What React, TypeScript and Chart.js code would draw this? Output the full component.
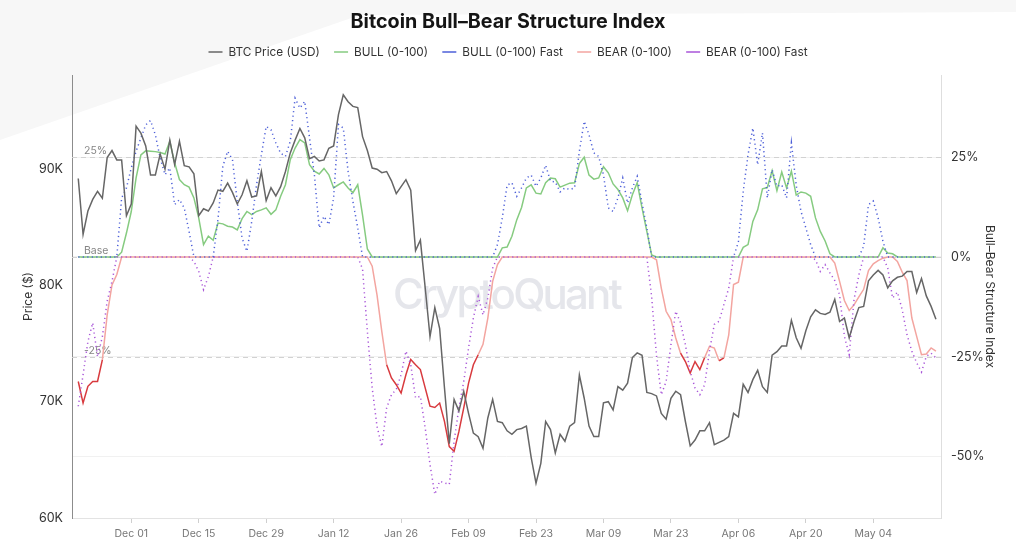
import React, { useEffect, useRef } from 'react';
import { Chart, registerables } from 'chart.js';

Chart.register(...registerables);

// ---------- data (daily, Nov 20 -> May 17) ----------
const START_UTC = Date.UTC(2025, 10, 20);
const MONTHS = ['Jan', 'Feb', 'Mar', 'Apr', 'May', 'Jun', 'Jul', 'Aug', 'Sep', 'Oct', 'Nov', 'Dec'];

const priceUSD = [
  89200, 84400, 86400, 87400, 88100, 87500, 91000, 91600, 90800, 90800,
  86000, 87000, 93700, 93100, 92000, 89500, 89500, 91300, 90000, 92500,
  90400, 92400, 90300, 90200, 89600, 86000, 86600, 86400, 87100, 88200,
  88100, 88800, 88000, 87000, 87800, 89000, 87600, 87700, 89800, 87300,
  88400, 87700, 88500, 89800, 91400, 92500, 93500, 92700, 90900, 91100,
  90700, 90800, 91800, 92000, 94700, 96400, 95800, 95400, 95300, 92800,
  91600, 90100, 90000, 89700, 89800, 89000, 87900, 88500, 89100, 88200,
  83000, 83900, 79800, 75600, 78100, 76300, 71200, 66400, 70200, 69200,
  70900, 69000, 67300, 67000, 66000, 68600, 70200, 68300, 68200, 67500,
  67200, 67600, 67700, 67900, 65200, 63000, 64700, 68300, 67600, 65600,
  67200, 66600, 67900, 68200, 72300, 70300, 67900, 67000, 67000, 69900,
  70000, 69300, 71300, 71000, 71600, 73800, 74200, 74000, 70800, 70700,
  70500, 69000, 68500, 70300, 70900, 70600, 68300, 66200, 66700, 67500,
  67500, 68200, 66300, 66500, 66700, 67000, 69000, 68700, 71500, 70800,
  71900, 72700, 71300, 70800, 74000, 74300, 74800, 74800, 77000, 75500,
  74600, 76100, 77300, 77900, 77600, 77500, 77700, 78800, 76900, 77200,
  75500, 76900, 78100, 78200, 80400, 80900, 81300, 80900, 79800, 80400,
  80700, 80800, 81200, 81200, 79400, 80600, 79100, 78200, 77100,
];

const bull = [
  0, 0, 0, 0, 0, 0, 0, 0, 0, 1.2,
  6.0, 11.4, 19.8, 25.6, 26.6, 26.5, 26.4, 26.2, 25.8, 29.0,
  23.6, 19.4, 18.1, 17.5, 14.8, 9.8, 3.1, 5.2, 4.2, 8.5,
  8.3, 7.7, 7.5, 6.8, 9.6, 11.4, 10.6, 11.4, 11.8, 12.3,
  10.7, 11.8, 15.2, 18.1, 24.4, 27.3, 29.4, 28.6, 23.1, 21.5,
  20.8, 22.2, 20.6, 17.3, 18.1, 18.8, 17.3, 16.1, 18.1, 10.5,
  2.0, 0, 0, 0, 0, 0, 0, 0, 0, 0,
  0, 0, 0, 0, 0, 0, 0, 0, 0, 0,
  0, 0, 0, 0, 0, 0, 0, 0, 2.3, 2.5,
  5.2, 9.3, 12.4, 17.3, 18.1, 16.0, 15.8, 18.6, 19.8, 19.6,
  17.5, 18.0, 18.5, 18.6, 23.4, 25.0, 20.5, 19.5, 19.8, 22.6,
  21.1, 18.3, 16.9, 14.8, 11.6, 15.6, 18.6, 12.3, 6.4, 0.5,
  0, 0, 0, 0, 0, 0, 0, 0, 0, 0,
  0, 0, 0, 0, 0, 0, 0, 0, 2.4, 3.1,
  8.9, 11.8, 17.1, 17.4, 21.6, 16.6, 21.3, 17.3, 21.5, 15.5,
  16.3, 16.0, 15.2, 9.8, 6.4, 4.0, 0.8, 0, 0, 0,
  0, 0, 0, 0, 0, 0, 0, 2.3, 1.0, 0.8,
  0, 0, 0, 0, 0, 0, 0, 0, 0,
];

const bullFast = [
  0, 0, 0, 0, 0, 0, 0, 0, 0, 14.8,
  17.3, 22.3, 26.5, 29.8, 33.1, 34.2, 30.6, 24.8, 20.6, 22.3,
  13.1, 14.4, 12.3, 6.4, 0, 0, 0, 0, 0, 9.5,
  22.7, 26.5, 24.4, 13.9, 4.7, 1.4, 8.9, 18.1, 25.6, 32.7,
  31.9, 28.6, 26.0, 25.2, 29.0, 39.8, 37.3, 39.0, 29.8, 20.6,
  7.3, 10.2, 8.1, 14.8, 33.2, 32.3, 21.5, 13.9, 7.3, 0,
  0, 0, 0, 0, 0, 0, 0, 0, 0, 0,
  0, 0, 0, 0, 0, 0, 0, 0, 0, 0,
  0, 0, 0, 0, 0, 0, 0, 3.1, 9.8, 18.0,
  18.6, 15.2, 17.3, 19.8, 20.5, 17.7, 19.8, 23.0, 19.0, 18.8,
  16.3, 17.3, 16.9, 17.3, 26.5, 34.0, 30.6, 26.1, 25.2, 20.6,
  12.3, 11.4, 14.8, 19.8, 13.5, 17.3, 20.2, 13.5, 7.3, 0,
  0, 0, 0, 0, 0, 0, 0, 0, 0, 0,
  0, 0, 0, 0, 0, 0, 0, 3.8, 16.4, 25.6,
  32.3, 23.1, 31.1, 14.8, 21.9, 17.7, 18.1, 14.8, 28.6, 18.0,
  11.4, 7.3, 3.1, 0, 0, 0, 0, 0, 0, 0,
  0, 0, 0, 2.7, 13.1, 14.0, 9.8, 3.9, 0, 0,
  0, 0, 0, 0, 0, 0, 0, 0, 0,
];

const bear = [
  -31.2, -36.6, -32.4, -31.2, -31.2, -25.8, -14.5, -7.0, -4.4, 0,
  0, 0, 0, 0, 0, 0, 0, 0, 0, 0,
  0, 0, 0, 0, 0, 0, 0, 0, 0, 0,
  0, 0, 0, 0, 0, 0, 0, 0, 0, 0,
  0, 0, 0, 0, 0, 0, 0, 0, 0, 0,
  0, 0, 0, 0, 0, 0, 0, 0, 0, 0,
  0, -2.3, -9.5, -18.7, -27.0, -30.3, -32.0, -34.1, -29.5, -25.7,
  -27.0, -28.2, -32.8, -37.4, -37.7, -36.6, -41.2, -47.5, -48.7, -43.7,
  -37.8, -31.6, -27.0, -24.5, -21.9, -15.3, -6.1, -1.9, 0, 0,
  0, 0, 0, 0, 0, 0, 0, 0, 0, 0,
  0, 0, 0, 0, 0, 0, 0, 0, 0, 0,
  0, 0, 0, 0, 0, 0, 0, 0, 0, 0,
  -0.7, -7.8, -13.6, -15.7, -20.3, -24.1, -26.2, -29.1, -26.2, -28.2,
  -25.2, -22.4, -22.8, -26.0, -25.3, -19.5, -6.9, -6.3, 0, 0,
  0, 0, 0, 0, 0, 0, 0, 0, 0, 0,
  0, 0, 0, 0, 0, 0, 0, -1.5, -6.1, -10.9,
  -13.4, -12.0, -10.0, -8.1, -3.4, -1.7, -0.9, -0.3, 0, 0,
  -1.1, -3.8, -5.9, -15.3, -19.9, -24.5, -24.3, -22.8, -23.6,
];

const bearFast = [
  -37.4, -29.5, -21.2, -16.5, -25.0, -20.0, -11.1, -6.1, 0, 0,
  0, 0, 0, 0, 0, 0, 0, 0, 0, 0,
  0, 0, 0, 0, -1.1, -3.6, -8.2, -4.9, 0, 0,
  0, 0, 0, 0, 0, 0, 0, 0, 0, 0,
  0, 0, 0, 0, 0, 0, 0, 0, 0, 0,
  0, 0, 0, 0, 0, 0, 0, 0, 0, -3.0,
  -18.7, -32.8, -42.4, -47.5, -37.8, -34.5, -33.2, -29.5, -23.6, -27.0,
  -35.3, -34.9, -42.8, -52.0, -59.5, -56.2, -56.6, -57.0, -46.2, -37.8,
  -31.2, -22.8, -15.3, -9.9, -14.5, -10.3, -2.8, 0, 0, 0,
  0, 0, 0, 0, 0, 0, 0, 0, 0, 0,
  0, 0, 0, 0, 0, 0, 0, 0, 0, 0,
  0, 0, 0, 0, 0, 0, 0, 0, 0, -10.0,
  -24.7, -34.5, -31.2, -22.0, -13.6, -16.5, -22.0, -28.7, -32.8, -34.5,
  -32.0, -23.6, -16.9, -16.1, -11.9, -7.8, 0, 0, 0, 0,
  0, 0, 0, 0, 0, 0, 0, 0, 0, 0,
  0, 0, 0, -0.7, -3.6, -1.9, -4.0, -5.9, -9.5, -19.9,
  -24.5, -10.7, -4.5, 0, 0, 0, 0, 0, -2.8, -10.3,
  -8.8, -13.2, -19.5, -23.6, -26.5, -28.8, -24.9, -24.1, -25.3,
];

const dayIndex = priceUSD.map((_, i) => i);
const dateLabels = dayIndex.map((i) => {
  const d = new Date(START_UTC + i * 86400000);
  return `${MONTHS[d.getUTCMonth()]} ${String(d.getUTCDate()).padStart(2, '0')}`;
});
const xTickDays = [11, 25, 39, 53, 67, 81, 95, 109, 123, 137, 151, 165];
const priceTicks = [60000, 70000, 80000, 90000];
const indexTicks = [-50, -25, 0, 25];
const refLevels = [25, 0, -25];
const refLabels = ['25%', 'Base', '-25%'];

const TITLE = 'Bitcoin Bull–Bear Structure Index';
const FONT = 'Inter, "Noto Sans", "DejaVu Sans", sans-serif';

export default function App() {
  const canvasRef = useRef<HTMLCanvasElement | null>(null);

  useEffect(() => {
    const canvas = canvasRef.current;
    if (!canvas) return;
    Chart.defaults.font.family = FONT;

    const m = document.createElement('canvas').getContext('2d')!;
    const fit = (text: string, weight: string, base: number, target: number) => {
      m.font = `${weight} ${base}px ${FONT}`;
      const w = m.measureText(text).width;
      return w > 0 ? (base * target) / w : base;
    };
    const titleSize = Math.max(17, Math.min(21, fit(TITLE, '700', 20, 315)));
    const legendSize = Math.max(11.5, Math.min(13.5, fit('BTC Price (USD)', '400', 12.5, 91.5)));

    const titleTop = 22 - titleSize / 2;
    const legendTop = 22 + titleSize / 2;
    const legendPad = Math.max(2, 52 - legendTop - legendSize / 2);
    const legendBottom = 52 + legendSize / 2 + 10;
    const gap = Math.max(1, 75 - legendBottom);

    const overlay = {
      id: 'overlay',
      beforeDatasetsDraw(chart: any) {
        const { ctx, chartArea: a, scales } = chart;
        const y1 = scales.y1;
        ctx.save();
        // watermark
        const wmSize = 42;
        ctx.font = `500 ${wmSize}px ${FONT}`;
        const w0 = ctx.measureText('CryptoQuant').width;
        if ('letterSpacing' in ctx) {
          (ctx as any).letterSpacing = `${(227 - w0) / 11}px`;
        }
        ctx.fillStyle = '#e5e6eb';
        ctx.textAlign = 'center';
        ctx.textBaseline = 'alphabetic';
        ctx.fillText('CryptoQuant', (a.left + a.right) / 2, 309);
        if ('letterSpacing' in ctx) (ctx as any).letterSpacing = '0px';
        // reference dashed lines
        ctx.lineWidth = 1;
        ctx.strokeStyle = '#d2d2d2';
        ctx.setLineDash([5, 4]);
        refLevels.forEach((lv) => {
          const y = Math.round(y1.getPixelForValue(lv)) + 0.5;
          ctx.beginPath();
          ctx.moveTo(a.left, y);
          ctx.lineTo(a.right, y);
          ctx.stroke();
        });
        ctx.setLineDash([]);
        ctx.font = `400 10.5px ${FONT}`;
        ctx.fillStyle = '#858585';
        ctx.textAlign = 'left';
        ctx.textBaseline = 'middle';
        refLevels.forEach((lv, i) => {
          const y = y1.getPixelForValue(lv);
          ctx.fillText(refLabels[i], a.left + 12, y - 6);
        });
        ctx.restore();
      },
    };

    const chart = new Chart(canvas, {
      type: 'line',
      data: {
        labels: dayIndex,
        datasets: [
          {
            label: 'BTC Price (USD)',
            data: priceUSD,
            yAxisID: 'y',
            borderColor: '#666666',
            borderWidth: 1.5,
            pointRadius: 0,
            tension: 0,
            order: 0,
          },
          {
            label: 'BULL (0-100)',
            data: bull,
            yAxisID: 'y1',
            borderColor: '#86cb80',
            borderWidth: 1.5,
            pointRadius: 0,
            tension: 0,
            order: 3,
          },
          {
            label: 'BULL (0-100) Fast',
            data: bullFast,
            yAxisID: 'y1',
            borderColor: '#4d5fd8',
            borderWidth: 1.5,
            borderDash: [1.2, 3.3],
            pointRadius: 0,
            tension: 0,
            order: 1,
          },
          {
            label: 'BEAR (0-100)',
            data: bear,
            yAxisID: 'y1',
            borderColor: '#f3a5a0',
            borderWidth: 1.5,
            pointRadius: 0,
            tension: 0,
            order: 2,
            segment: {
              borderColor: (c: any) =>
                (c.p0.parsed.y + c.p1.parsed.y) / 2 < -25 ? '#d83a3e' : undefined,
            },
          },
          {
            label: 'BEAR (0-100) Fast',
            data: bearFast,
            yAxisID: 'y1',
            borderColor: '#a855d8',
            borderWidth: 1.5,
            borderDash: [1.2, 3.3],
            pointRadius: 0,
            tension: 0,
            order: 1,
          },
        ],
      },
      options: {
        responsive: false,
        animation: false,
        events: [],
        layout: { padding: 0 },
        scales: {
          x: {
            type: 'linear',
            min: -1.3,
            max: 179.05,
            afterBuildTicks: (s: any) => {
              s.ticks = xTickDays.map((v) => ({ value: v }));
            },
            afterFit: (s: any) => {
              s.height = 23;
            },
            ticks: {
              callback: (v: any) => dateLabels[v] ?? '',
              color: '#777777',
              font: { size: 10.5 },
              padding: 5,
              maxRotation: 0,
              autoSkip: false,
            },
            grid: { display: true, drawOnChartArea: false, drawTicks: true, tickLength: 5, color: '#cfcfcf' },
            border: { display: true, color: '#e3e3e3' },
          },
          y: {
            type: 'linear',
            position: 'left',
            min: 60000,
            max: 98100,
            afterBuildTicks: (s: any) => {
              s.ticks = priceTicks.map((v) => ({ value: v }));
            },
            afterFit: (s: any) => {
              s.width = 72;
            },
            ticks: {
              callback: (v: any) => `${Number(v) / 1000}K`,
              color: '#333333',
              font: { size: 12.5 },
              padding: 9,
            },
            grid: { display: true, drawOnChartArea: false, drawTicks: false, color: 'rgba(0,0,0,0)' },
            border: { display: true, color: '#8c8c8c', width: 1 },
            title: {
              display: true,
              text: 'Price ($)',
              color: '#333333',
              font: { size: 12 },
              padding: { top: 21, bottom: 0 },
            },
          },
          y1: {
            type: 'linear',
            position: 'right',
            min: -65.4,
            max: 45.6,
            afterBuildTicks: (s: any) => {
              s.ticks = indexTicks.map((v) => ({ value: v }));
            },
            afterFit: (s: any) => {
              s.width = 75;
            },
            ticks: {
              callback: (v: any) => `${v}%`,
              color: '#333333',
              font: { size: 12.5 },
              padding: 10,
            },
            grid: { display: true, drawOnChartArea: true, drawTicks: false, color: '#f1f1f1' },
            border: { display: true, color: '#dedede', width: 1 },
            title: {
              display: true,
              text: 'Bull–Bear Structure Index',
              color: '#333333',
              font: { size: 12 },
              padding: { top: 19, bottom: 0 },
            },
          },
        },
        plugins: {
          tooltip: { enabled: false },
          title: {
            display: true,
            text: TITLE,
            color: '#151515',
            font: { size: titleSize, weight: 'bold', lineHeight: 1 },
            padding: { top: titleTop, bottom: 0 },
          },
          subtitle: {
            display: true,
            text: '',
            weight: 500,
            font: { size: 1, lineHeight: 1 },
            padding: { top: gap - 1, bottom: 0 },
          },
          legend: {
            display: true,
            position: 'top',
            labels: {
              color: '#333333',
              font: { size: legendSize },
              usePointStyle: true,
              pointStyle: 'line',
              pointStyleWidth: 14,
              padding: legendPad,
              sort: (a: any, b: any) => a.datasetIndex - b.datasetIndex,
            },
          },
        },
      } as any,
      plugins: [overlay],
    });

    return () => chart.destroy();
  }, []);

  return (
    <div
      style={{
        position: 'fixed',
        left: 0,
        top: 0,
        width: 1016,
        height: 541,
        background: '#ffffff',
        overflow: 'hidden',
      }}
    >
      <div
        style={{
          position: 'absolute',
          left: 0,
          top: 0,
          width: 1016,
          height: 541,
          background: '#f7f7f7',
          clipPath: 'polygon(0 0, 1016px 0, 1016px 12px, 360px 15px, 0 140px)',
        }}
      />
      <canvas
        ref={canvasRef}
        width={1016}
        height={541}
        style={{ position: 'absolute', left: 0, top: 0, width: 1016, height: 541 }}
      />
    </div>
  );
}
